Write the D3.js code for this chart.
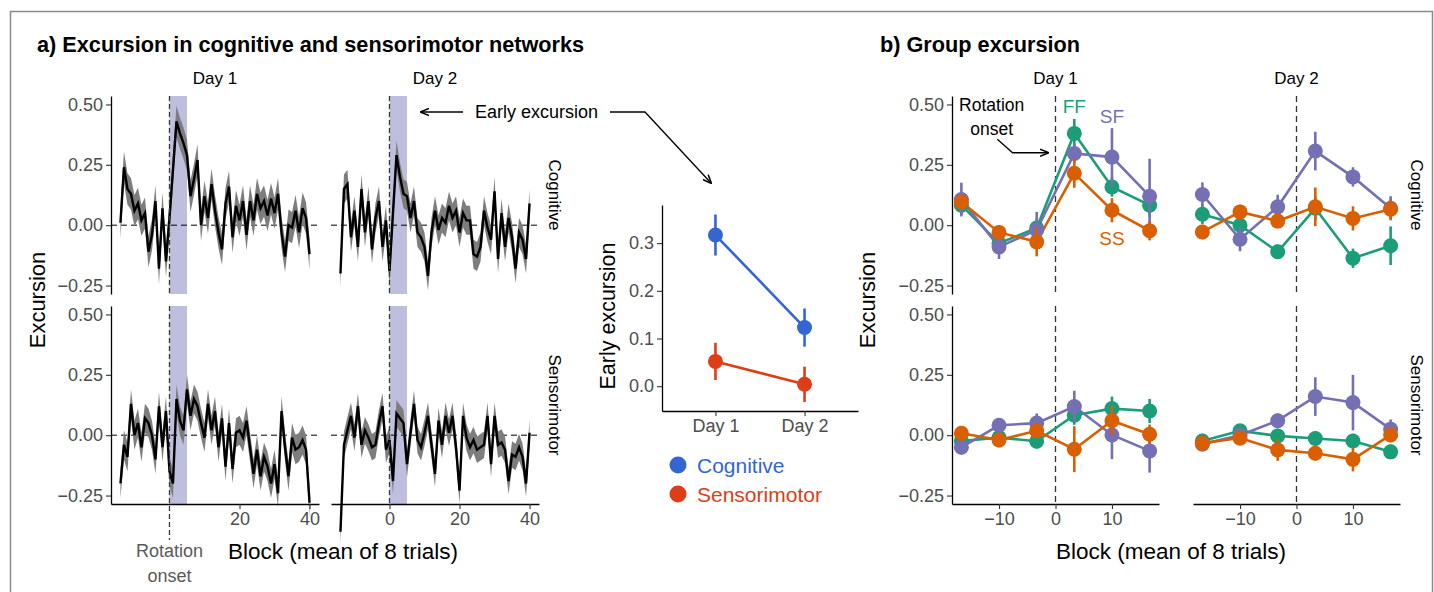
<!DOCTYPE html>
<html>
<head>
<meta charset="utf-8">
<script src="https://cdn.jsdelivr.net/npm/d3@7"></script>
<style>
  body { margin: 0; background: #fff; }
  text { font-family: "Liberation Sans", Arial, Helvetica, sans-serif; }
</style>
</head>
<body>
<script>
// ---- data: panel a (mean excursion per block, -14..40) ----
const blocks = d3.range(-14, 41);
const cogDay1 = [0.01, 0.24, 0.15, 0.13, 0.06, 0.09, 0.02, 0.05, -0.11, -0.04, 0.10, -0.18, 0.07, -0.15,
  0.03, 0.23, 0.43, 0.38, 0.34, 0.29, 0.12, 0.19, 0.27, 0.00, 0.12, 0.03, 0.17, 0.06, -0.03, -0.10,
  0.09, 0.16, -0.05, 0.08, 0.02, 0.10, -0.04, 0.10, 0.02, 0.13, 0.07, 0.10, 0.04, 0.11, 0.05, 0.13,
  -0.03, -0.13, 0.00, -0.01, 0.06, -0.03, 0.07, 0.03, -0.12];
const cogDay2 = [-0.20, 0.15, 0.17, -0.05, 0.06, -0.09, 0.15, -0.03, 0.10, -0.10, 0.03, 0.10, -0.09, 0.02,
  -0.19, 0.05, 0.29, 0.20, 0.13, 0.12, 0.03, 0.10, -0.03, -0.05, -0.09, -0.21, -0.03, 0.06, -0.02, 0.03,
  0.01, 0.08, 0.03, 0.06, -0.03, 0.05, 0.02, 0.02, -0.12, -0.13, -0.09, 0.06, -0.01, -0.06, 0.14, -0.14,
  0.05, -0.09, 0.03, -0.05, -0.18, -0.03, -0.06, -0.14, 0.09];
const senDay1 = [-0.20, -0.04, -0.09, 0.13, 0.00, 0.05, -0.05, 0.07, 0.05, 0.00, -0.10, 0.12, -0.05, 0.10,
  -0.15, -0.20, 0.15, 0.06, 0.02, 0.19, 0.08, 0.15, 0.12, 0.05, -0.01, 0.13, 0.02, 0.10, -0.05, 0.07,
  -0.13, 0.05, -0.14, 0.01, 0.02, -0.01, 0.06, -0.05, -0.16, -0.06, -0.17, -0.09, -0.13, -0.20, -0.12,
  -0.24, 0.10, -0.05, -0.17, -0.01, -0.06, -0.05, -0.02, -0.06, -0.28];
const senDay2 = [-0.40, -0.04, 0.02, 0.08, -0.01, 0.12, -0.04, 0.02, -0.01, -0.05, -0.04, 0.05, 0.12, -0.06,
  -0.02, -0.19, 0.09, 0.07, 0.05, -0.12, 0.01, 0.13, -0.02, -0.05, 0.01, 0.08, -0.04, -0.16, 0.06, -0.04,
  0.08, 0.01, 0.08, -0.05, -0.23, 0.08, -0.01, -0.05, -0.02, -0.06, -0.05, -0.04, 0.08, -0.12, 0.08,
  -0.04, -0.03, -0.06, -0.19, -0.08, -0.09, -0.05, -0.09, -0.20, 0.01];
// standard error of each series (half-width of the ribbon)
const seCogDay1 = 0.065, seCogDay2 = 0.06, seSenDay1 = 0.06, seSenDay2 = 0.055;
const earlyWindow = [0, 5];

// ---- data: middle panel ----
const earlyDays = ['Day 1', 'Day 2'];
const earlyCog = [0.317, 0.123], earlyCogSe = [0.043, 0.04];
const earlySen = [0.052, 0.004], earlySenSe = [0.039, 0.037];

// ---- data: panel b (group means per 6.67-block bin) ----
const groupBins = [-16.67, -10, -3.33, 3.33, 10, 16.67];
const groupNames = ['FF', 'SF', 'SS'];
const ffCogDay1 = [0.083, -0.075, -0.012, 0.38, 0.158, 0.083];
const sfCogDay1 = [0.106, -0.09, -0.02, 0.297, 0.282, 0.12];
const ssCogDay1 = [0.096, -0.03, -0.069, 0.215, 0.062, -0.023];
const ffCogDay2 = [0.045, 0.0, -0.11, 0.07, -0.137, -0.085];
const sfCogDay2 = [0.127, -0.058, 0.076, 0.307, 0.2, 0.07];
const ssCogDay2 = [-0.028, 0.055, 0.017, 0.076, 0.028, 0.066];
const ffSenDay1 = [-0.024, -0.01, -0.025, 0.083, 0.11, 0.1];
const sfSenDay1 = [-0.05, 0.041, 0.05, 0.119, 0.001, -0.065];
const ssSenDay1 = [0.008, -0.02, 0.018, -0.058, 0.06, 0.004];
const ffSenDay2 = [-0.024, 0.018, -0.003, -0.014, -0.024, -0.069];
const sfSenDay2 = [-0.037, 0.0, 0.06, 0.16, 0.135, 0.025];
const ssSenDay2 = [-0.033, -0.012, -0.061, -0.075, -0.1, 0.001];
const ffCogDay1Se = [0.04, 0.04, 0.04, 0.06, 0.04, 0.05];
const sfCogDay1Se = [0.07, 0.05, 0.075, 0.04, 0.12, 0.155];
const ssCogDay1Se = [0.03, 0.03, 0.06, 0.06, 0.05, 0.04];
const ffCogDay2Se = [0.04, 0.03, 0.03, 0.05, 0.04, 0.08];
const sfCogDay2Se = [0.05, 0.05, 0.05, 0.08, 0.04, 0.05];
const ssCogDay2Se = [0.03, 0.03, 0.03, 0.08, 0.05, 0.04];
const ffSenDay1Se = [0.03, 0.03, 0.03, 0.04, 0.05, 0.05];
const sfSenDay1Se = [0.03, 0.03, 0.04, 0.065, 0.1, 0.09];
const ssSenDay1Se = [0.03, 0.03, 0.03, 0.095, 0.06, 0.04];
const ffSenDay2Se = [0.03, 0.02, 0.03, 0.03, 0.03, 0.03];
const sfSenDay2Se = [0.03, 0.03, 0.03, 0.08, 0.115, 0.04];
const ssSenDay2Se = [0.03, 0.03, 0.045, 0.03, 0.05, 0.03];

const groupColor = { FF: '#1b9e77', SF: '#7570b3', SS: '#d95f02' };
const netColor = { Cognitive: '#3465d0', Sensorimotor: '#dd3d17' };
const tickGrey = '#4d4d4d';

function translate(x, y) {
    return 'translate(' + x + ',' + y + ')';
}

const svg = d3.select('body').append('svg')
    .attr('width', 1434)
    .attr('height', 592);

// outer frame
svg.append('rect')
    .attr('x', 10.5).attr('y', 11.5).attr('width', 1422).attr('height', 640)
    .attr('fill', 'none').attr('stroke', '#8a8a8a').attr('stroke-width', 1.5);

function label(g, x, y, str, o) {
    o = o || {};
    let t = g.append('text')
        .attr('x', x).attr('y', y)
        .attr('text-anchor', o.anchor || 'middle')
        .attr('dominant-baseline', 'central')
        .attr('font-size', o.size || 16)
        .attr('fill', o.fill || '#000')
        .text(str);
    if (o.bold) t.attr('font-weight', 'bold');
    if (o.rotate) t.attr('transform', 'rotate(' + o.rotate + ',' + x + ',' + y + ')');
    return t;
}

function styleAxis(ax) {
    ax.select('.domain').attr('stroke', '#000').attr('stroke-width', 1.3);
    ax.selectAll('.tick line').attr('stroke', '#333').attr('stroke-width', 1.1);
    ax.selectAll('.tick text').attr('fill', tickGrey).attr('font-size', 18)
        .attr('font-family', '"Liberation Sans", Arial, sans-serif');
}

// ---- titles ----
label(svg, 37, 44, 'a) Excursion in cognitive and sensorimotor networks', { anchor: 'start', size: 21.7, bold: true });
label(svg, 880, 44, 'b) Group excursion', { anchor: 'start', size: 21.7, bold: true });

// ---- panel a ----
const facetW = 208, facetH = 198;
const rowTop = [96, 306];
const yFacet = d3.scaleLinear().domain([-0.285, 0.535]).range([facetH, 0]);
const xA = d3.scaleLinear().domain([-16.7, 42.7]).range([0, facetW]);
const colA = [111, 331];

const facetsA = [
    { col: 0, row: 0, vals: cogDay1, se: seCogDay1 },
    { col: 1, row: 0, vals: cogDay2, se: seCogDay2 },
    { col: 0, row: 1, vals: senDay1, se: seSenDay1 },
    { col: 1, row: 1, vals: senDay2, se: seSenDay2 }
];

facetsA.forEach(f => {
    let g = svg.append('g').attr('transform', translate(colA[f.col], rowTop[f.row]));
    g.append('rect')
        .attr('x', xA(earlyWindow[0])).attr('width', xA(earlyWindow[1]) - xA(earlyWindow[0]))
        .attr('y', 0).attr('height', facetH)
        .attr('fill', '#bebedf');
    g.append('line')
        .attr('x1', 0).attr('x2', facetW).attr('y1', yFacet(0)).attr('y2', yFacet(0))
        .attr('stroke', '#000').attr('stroke-width', 1).attr('stroke-dasharray', '6,4');
    let data = blocks.map((b, i) => [b, f.vals[i]]);
    let area = d3.area()
        .x(d => xA(d[0]))
        .y0(d => yFacet(d[1] - f.se))
        .y1(d => yFacet(d[1] + f.se));
    g.append('path').datum(data).attr('d', area).attr('fill', '#7d7d7d');
    let line = d3.line().x(d => xA(d[0])).y(d => yFacet(d[1]));
    g.append('path').datum(data).attr('d', line)
        .attr('fill', 'none').attr('stroke', '#000').attr('stroke-width', 2.4);
    g.append('line')
        .attr('x1', xA(0)).attr('x2', xA(0)).attr('y1', 0)
        .attr('y2', (f.col === 0 && f.row === 1) ? 540 - rowTop[1] : facetH)
        .attr('stroke', '#3a3a3a').attr('stroke-width', 1.3).attr('stroke-dasharray', '5,3');

    if (f.col === 0) {
        let ax = g.append('g').call(d3.axisLeft(yFacet)
            .tickValues([-0.25, 0, 0.25, 0.5]).tickFormat(d3.format('.2f')).tickSize(5).tickSizeOuter(0));
        styleAxis(ax);
    }
    if (f.row === 1) {
        let ax = g.append('g').attr('transform', translate(0, facetH)).call(d3.axisBottom(xA)
            .tickValues(f.col === 0 ? [20, 40] : [0, 20, 40]).tickSize(5).tickSizeOuter(0));
        styleAxis(ax);
    }
});

// strips panel a
label(svg, colA[0] + facetW / 2, 78, 'Day 1', { size: 17 });
label(svg, colA[1] + facetW / 2, 78, 'Day 2', { size: 17 });
label(svg, 554, rowTop[0] + facetH / 2, 'Cognitive', { size: 17, rotate: 90 });
label(svg, 554, rowTop[1] + facetH / 2, 'Sensorimotor', { size: 17, rotate: 90 });
label(svg, 37, 300, 'Excursion', { size: 22, rotate: -90 });
label(svg, 343, 551, 'Block (mean of 8 trials)', { size: 22.5 });
label(svg, colA[0] + xA(0), 551, 'Rotation', { size: 18, fill: '#595959' });
label(svg, colA[0] + xA(0), 576, 'onset', { size: 18, fill: '#595959' });

// "Early excursion" annotation
svg.append('defs').append('marker')
    .attr('id', 'arrow').attr('viewBox', '0 0 10 10').attr('refX', 9).attr('refY', 5)
    .attr('markerWidth', 9).attr('markerHeight', 9).attr('orient', 'auto-start-reverse')
    .attr('markerUnits', 'userSpaceOnUse')
    .append('path').attr('d', 'M0,1 L10,5 L0,9').attr('fill', 'none').attr('stroke', '#000').attr('stroke-width', 1.6);
label(svg, 536.5, 112, 'Early excursion', { size: 18 });
svg.append('path').attr('d', 'M463,112 L421,112')
    .attr('stroke', '#000').attr('stroke-width', 1.3).attr('fill', 'none').attr('marker-end', 'url(#arrow)');
svg.append('path').attr('d', 'M610,112 L645,112 L711,183')
    .attr('stroke', '#000').attr('stroke-width', 1.3).attr('fill', 'none').attr('marker-end', 'url(#arrow)');

// ---- middle panel ----
const mid = { left: 662, right: 858, top: 205, bottom: 411 };
const xM = d3.scalePoint().domain(earlyDays).range([mid.left, mid.right]).padding(0.6);
const yM = d3.scaleLinear().domain([-0.052, 0.38]).range([mid.bottom, mid.top]);
const midSeries = [
    { name: 'Cognitive', vals: earlyCog, se: earlyCogSe },
    { name: 'Sensorimotor', vals: earlySen, se: earlySenSe }
];
midSeries.forEach(s => {
    let c = netColor[s.name];
    let pts = earlyDays.map((d, i) => ({ d: d, v: s.vals[i], se: s.se[i] }));
    svg.append('path').datum(pts)
        .attr('d', d3.line().x(p => xM(p.d)).y(p => yM(p.v)))
        .attr('fill', 'none').attr('stroke', c).attr('stroke-width', 2.6);
    svg.selectAll(null).data(pts).enter().append('line')
        .attr('x1', p => xM(p.d)).attr('x2', p => xM(p.d))
        .attr('y1', p => yM(p.v - p.se)).attr('y2', p => yM(p.v + p.se))
        .attr('stroke', c).attr('stroke-width', 2.6);
    svg.selectAll(null).data(pts).enter().append('circle')
        .attr('cx', p => xM(p.d)).attr('cy', p => yM(p.v)).attr('r', 7.5).attr('fill', c);
});
let axM = svg.append('g').attr('transform', translate(mid.left, 0))
    .call(d3.axisLeft(yM).tickValues([0, 0.1, 0.2, 0.3]).tickFormat(d3.format('.1f')).tickSize(5).tickSizeOuter(0));
styleAxis(axM);
let axMx = svg.append('g').attr('transform', translate(0, mid.bottom))
    .call(d3.axisBottom(xM).tickSize(5).tickSizeOuter(0));
styleAxis(axMx);
label(svg, 608, 316, 'Early excursion', { size: 21.5, rotate: -90 });
midSeries.forEach((s, i) => {
    svg.append('circle').attr('cx', 678).attr('cy', 465 + i * 29).attr('r', 8.5).attr('fill', netColor[s.name]);
    label(svg, 697, 465 + i * 29, s.name, { anchor: 'start', size: 21, fill: netColor[s.name] });
});

// ---- panel b ----
const colB = [952, 1193];
const facetWB = 207;
const xB = d3.scaleLinear().domain([-18.33, 18.33]).range([0, facetWB]);
const facetsB = [
    { col: 0, row: 0, FF: [ffCogDay1, ffCogDay1Se], SF: [sfCogDay1, sfCogDay1Se], SS: [ssCogDay1, ssCogDay1Se] },
    { col: 1, row: 0, FF: [ffCogDay2, ffCogDay2Se], SF: [sfCogDay2, sfCogDay2Se], SS: [ssCogDay2, ssCogDay2Se] },
    { col: 0, row: 1, FF: [ffSenDay1, ffSenDay1Se], SF: [sfSenDay1, sfSenDay1Se], SS: [ssSenDay1, ssSenDay1Se] },
    { col: 1, row: 1, FF: [ffSenDay2, ffSenDay2Se], SF: [sfSenDay2, sfSenDay2Se], SS: [ssSenDay2, ssSenDay2Se] }
];
facetsB.forEach(f => {
    let g = svg.append('g').attr('transform', translate(colB[f.col], rowTop[f.row]));
    g.append('line')
        .attr('x1', xB(0)).attr('x2', xB(0)).attr('y1', 0).attr('y2', facetH)
        .attr('stroke', '#333').attr('stroke-width', 1.3).attr('stroke-dasharray', '6,4');
    let line = d3.line().x(d => xB(d[0])).y(d => yFacet(d[1]));
    groupNames.forEach(n => {
        let pts = groupBins.map((b, i) => [b, f[n][0][i], f[n][1][i]]);
        g.append('path').datum(pts).attr('d', line)
            .attr('fill', 'none').attr('stroke', groupColor[n]).attr('stroke-width', 2.6);
    });
    groupNames.forEach(n => {
        let pts = groupBins.map((b, i) => [b, f[n][0][i], f[n][1][i]]);
        g.selectAll(null).data(pts).enter().append('line')
            .attr('x1', d => xB(d[0])).attr('x2', d => xB(d[0]))
            .attr('y1', d => yFacet(d[1] - d[2])).attr('y2', d => yFacet(d[1] + d[2]))
            .attr('stroke', groupColor[n]).attr('stroke-width', 2.6);
        g.selectAll(null).data(pts).enter().append('circle')
            .attr('cx', d => xB(d[0])).attr('cy', d => yFacet(d[1])).attr('r', 7.5)
            .attr('fill', groupColor[n]);
    });
    if (f.col === 0) {
        let ax = g.append('g').call(d3.axisLeft(yFacet)
            .tickValues([-0.25, 0, 0.25, 0.5]).tickFormat(d3.format('.2f')).tickSize(5).tickSizeOuter(0));
        styleAxis(ax);
    }
    if (f.row === 1) {
        let ax = g.append('g').attr('transform', translate(0, facetH)).call(d3.axisBottom(xB)
            .tickValues([-10, 0, 10]).tickSize(5).tickSizeOuter(0));
        styleAxis(ax);
    }
    if (f.col === 0 && f.row === 0) {
        label(g, xB(groupBins[3]), yFacet(0.49), 'FF', { size: 19, fill: groupColor.FF });
        label(g, xB(groupBins[4]), yFacet(0.45), 'SF', { size: 19, fill: groupColor.SF });
        label(g, xB(groupBins[4]), yFacet(-0.055), 'SS', { size: 19, fill: groupColor.SS });
        label(g, xB(-11.3), yFacet(0.497), 'Rotation', { size: 17.5 });
        label(g, xB(-11.3), yFacet(0.4), 'onset', { size: 17.5 });
        g.append('path')
            .attr('d', d3.line()([[xB(-10.3), yFacet(0.356)], [xB(-7.6), yFacet(0.3)], [xB(-1.3), yFacet(0.3)]]))
            .attr('stroke', '#000').attr('stroke-width', 1.3).attr('fill', 'none').attr('marker-end', 'url(#arrow)');
    }
});
label(svg, colB[0] + facetWB / 2, 78, 'Day 1', { size: 17 });
label(svg, colB[1] + facetWB / 2, 78, 'Day 2', { size: 17 });
label(svg, 1416, rowTop[0] + facetH / 2, 'Cognitive', { size: 17, rotate: 90 });
label(svg, 1416, rowTop[1] + facetH / 2, 'Sensorimotor', { size: 17, rotate: 90 });
label(svg, 867, 300, 'Excursion', { size: 22, rotate: -90 });
label(svg, 1171, 551, 'Block (mean of 8 trials)', { size: 22.5 });
</script>
</body>
</html>
